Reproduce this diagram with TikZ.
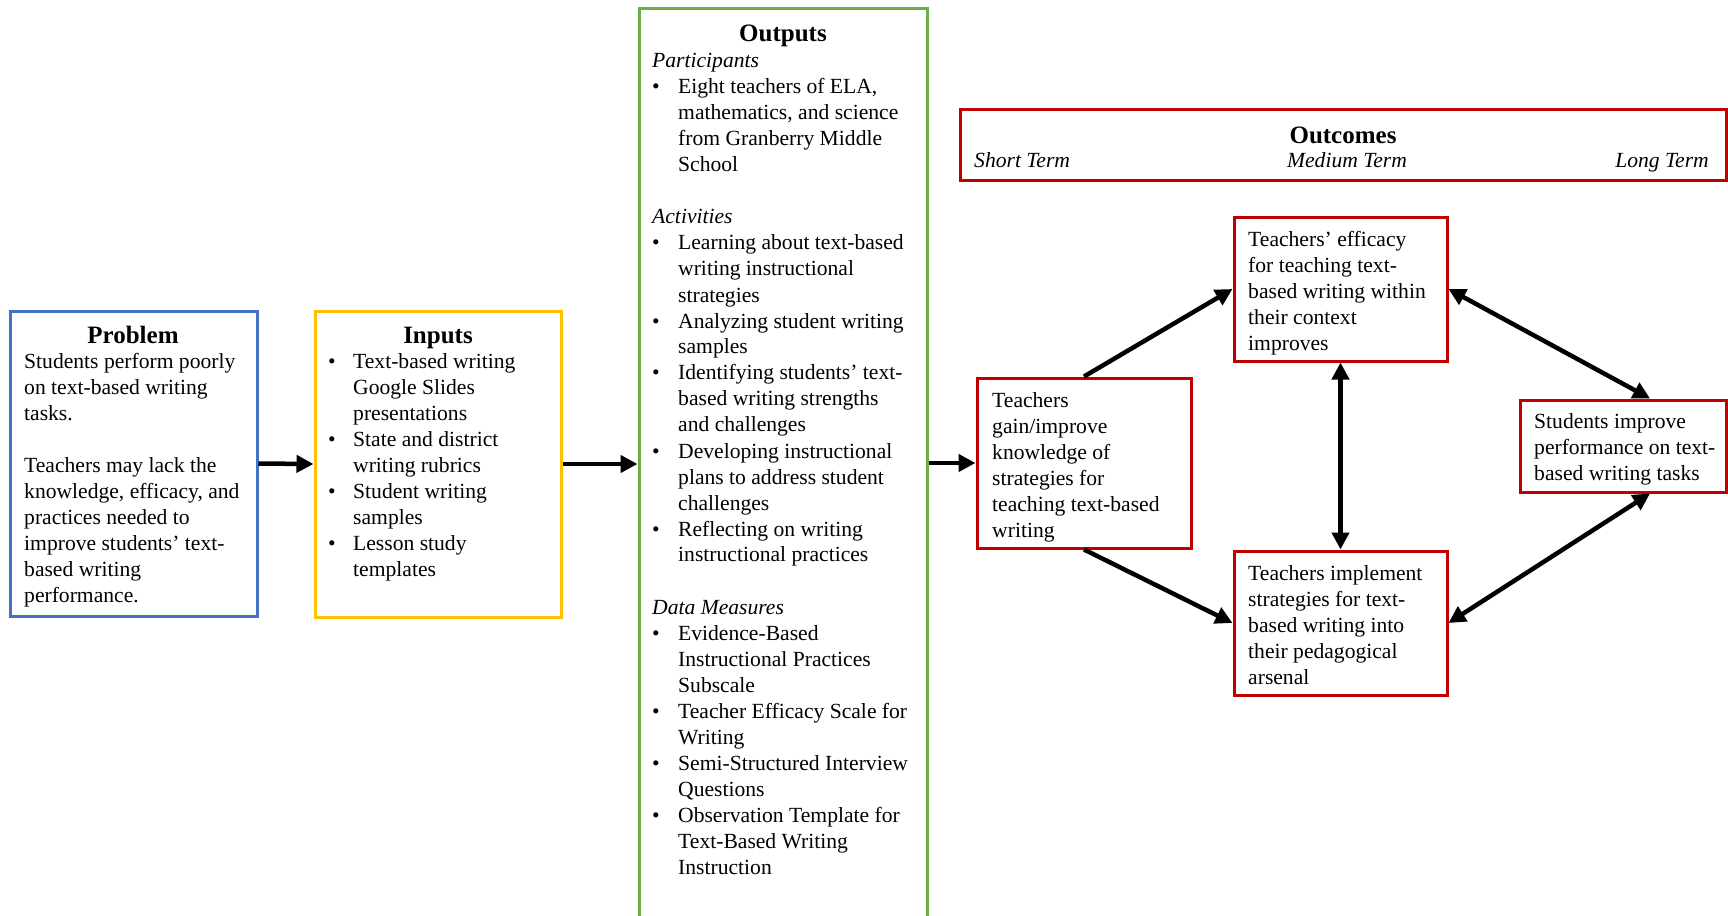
\documentclass[tikz,border=0pt]{standalone}
\usepackage{fontspec}
\setmainfont{Liberation Serif}
\usetikzlibrary{arrows.meta}
\definecolor{pblue}{HTML}{4472C4}
\definecolor{pyellow}{HTML}{FFC000}
\definecolor{pgreen}{HTML}{70AD47}
\definecolor{pred}{HTML}{C00000}
\newcommand\bodyfont{\fontsize{21.6}{26}\selectfont}
\newcommand\headfont{\fontsize{25}{30}\selectfont\bfseries}
\newcommand\myb{\makebox[25pt][l]{\textbullet}}
\newcommand\myi{\hspace*{25pt}}
\newcommand\myo{\makebox[26pt][l]{\textbullet}}
\newcommand\myoi{\hspace*{26pt}}
\begin{document}
\begin{tikzpicture}[x=1pt,y=-1pt,
  boxframe/.style={draw=#1, line width=3pt, inner sep=0pt, fill=none},
  txt/.style={anchor=base west, inner sep=0pt, font=\bodyfont},
  hd/.style={anchor=base, inner sep=0pt, font=\headfont},
  conn/.style={line width=4.5pt, -{Triangle[length=17pt,width=17pt]}},
  biconn/.style={line width=4.5pt, {Triangle[length=17pt,width=17pt]}-{Triangle[length=17pt,width=17pt]}}
]
\useasboundingbox (0,0) rectangle (1728,915);
\clip (0,0) rectangle (1728,915);

% Problem
\node[boxframe=pblue, minimum width=247pt, minimum height=305pt] (P) at (133.5,463.5) {};
\node[hd] (Ph) at (133,343) {Problem};
\node[txt] (Pt) at (24,368) {\parbox[t]{300pt}{\raggedright
Students perform poorly\\
on text-based writing\\
tasks.\\[26pt]
Teachers may lack the\\
knowledge, efficacy, and\\
practices needed to\\
improve students’ text-\\
based writing\\
performance.}};

% Inputs
\node[boxframe=pyellow, minimum width=246pt, minimum height=306pt] (In) at (438,464) {};
\node[hd] (Inh) at (438,343) {Inputs};
\node[txt] (Int) at (328,368) {\parbox[t]{300pt}{\raggedright
\myb Text-based writing\\
\myi Google Slides\\
\myi presentations\\
\myb State and district\\
\myi writing rubrics\\
\myb Student writing\\
\myi samples\\
\myb Lesson study\\
\myi templates}};

% Outputs
\node[boxframe=pgreen, minimum width=288pt, minimum height=940pt] (O) at (783,479) {};
\node[hd] (Oh) at (783,42) {Outputs};
\node[txt] (Ot) at (652,68) {\parbox[t]{320pt}{\raggedright
\textit{Participants}\\
\myo Eight teachers of ELA,\\
\myoi mathematics, and science\\
\myoi from Granberry Middle\\
\myoi School\\[26pt]
\textit{Activities}\\
\myo Learning about text-based\\
\myoi writing instructional\\
\myoi strategies\\
\myo Analyzing student writing\\
\myoi samples\\
\myo Identifying students’ text-\\
\myoi based writing strengths\\
\myoi and challenges\\
\myo Developing instructional\\
\myoi plans to address student\\
\myoi challenges\\
\myo Reflecting on writing\\
\myoi instructional practices\\[26pt]
\textit{Data Measures}\\
\myo Evidence-Based\\
\myoi Instructional Practices\\
\myoi Subscale\\
\myo Teacher Efficacy Scale for\\
\myoi Writing\\
\myo Semi-Structured Interview\\
\myoi Questions\\
\myo Observation Template for\\
\myoi Text-Based Writing\\
\myoi Instruction}};

% Outcomes header
\node[boxframe=pred, minimum width=766pt, minimum height=70pt] (OC) at (1343,145) {};
\node[hd] (OCh) at (1343,143) {Outcomes};
\node[txt] (st) at (974,167) {\textit{Short Term}};
\node[txt, anchor=base] (mt) at (1347,167) {\textit{Medium Term}};
\node[txt, anchor=base east] (lt) at (1709,167) {\textit{Long Term}};

% Outcome boxes
\node[boxframe=pred, minimum width=214pt, minimum height=170pt] (A) at (1084,463) {};
\node[txt] (At) at (992,407) {\parbox[t]{220pt}{\raggedright
Teachers\\
gain/improve\\
knowledge of\\
strategies for\\
teaching text-based\\
writing}};

\node[boxframe=pred, minimum width=213pt, minimum height=144pt] (B) at (1340.5,289) {};
\node[txt] (Bt) at (1248,246) {\parbox[t]{220pt}{\raggedright
Teachers’ efficacy\\
for teaching text-\\
based writing within\\
their context\\
improves}};

\node[boxframe=pred, minimum width=213pt, minimum height=144pt] (C) at (1340.5,623) {};
\node[txt] (Ct) at (1248,580) {\parbox[t]{220pt}{\raggedright
Teachers implement\\
strategies for text-\\
based writing into\\
their pedagogical\\
arsenal}};

\node[boxframe=pred, minimum width=206pt, minimum height=92pt] (D) at (1623,446) {};
\node[txt] (Dt) at (1534,428) {\parbox[t]{220pt}{\raggedright
Students improve\\
performance on text-\\
based writing tasks}};

% Connectors
\draw[conn] (P.east) -- (In.west);
\draw[conn] (In.east) -- (O.west |- In.east);
\draw[conn] (O.east |- A.west) -- (A.west);
\draw[conn] (A.north) -- (B.west);
\draw[conn] (A.south) -- (C.west);
\draw[biconn] (B.south) -- (C.north);
\draw[biconn] (B.east) -- ([xshift=27pt]D.north);
\draw[biconn] (C.east) -- ([xshift=27pt]D.south);
\end{tikzpicture}
\end{document}
